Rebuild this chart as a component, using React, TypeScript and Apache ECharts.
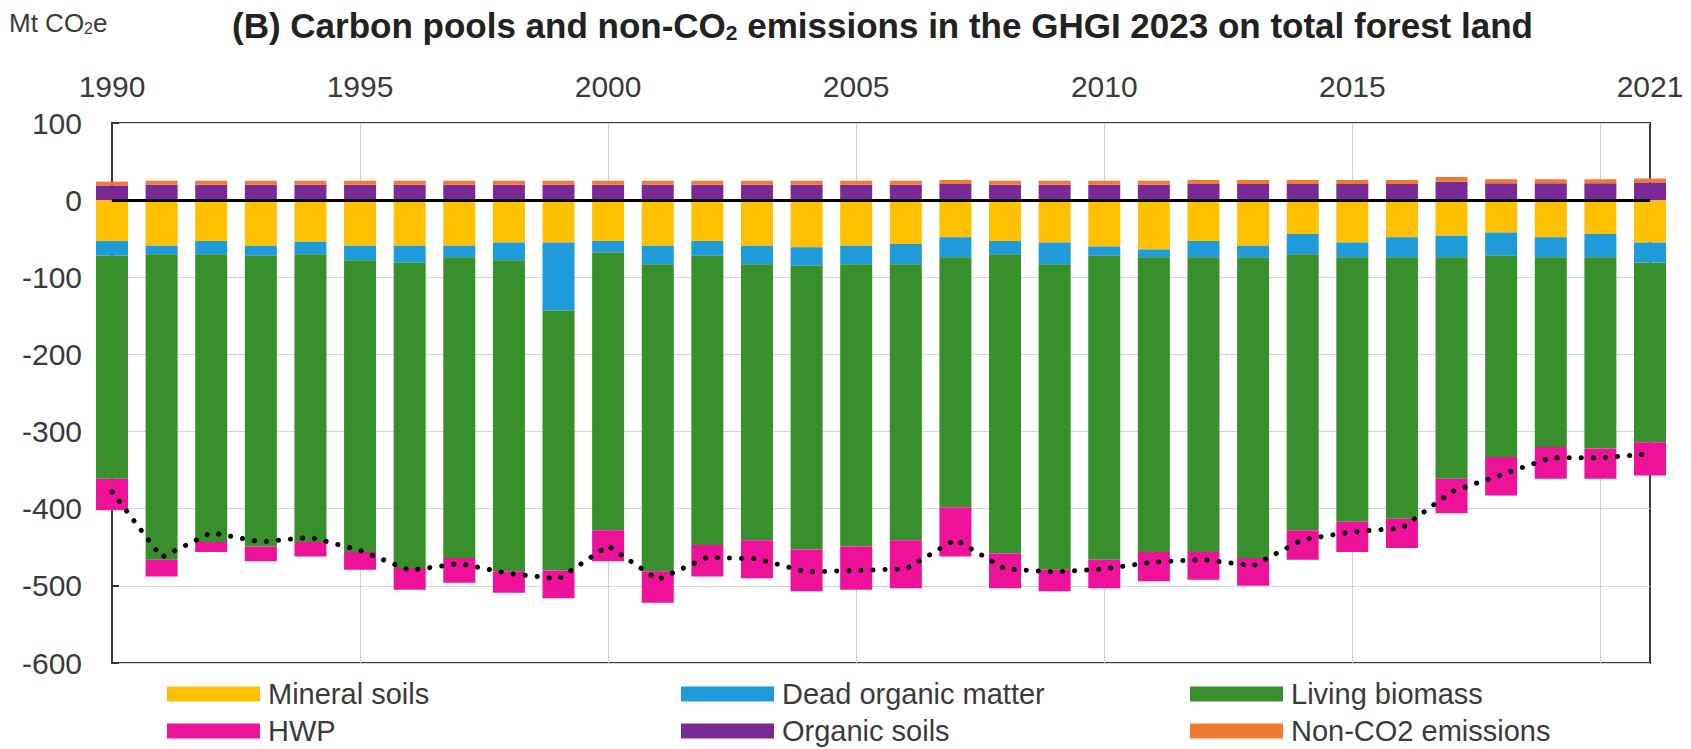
import React, { useEffect, useRef } from "react";
import * as echarts from "echarts";

const years = [
  "1990", "1991", "1992", "1993", "1994", "1995", "1996", "1997", "1998", "1999",
  "2000", "2001", "2002", "2003", "2004", "2005", "2006", "2007", "2008", "2009",
  "2010", "2011", "2012", "2013", "2014", "2015", "2016", "2017", "2018", "2019",
  "2020", "2021",
];

const mineralSoils = [
  -53, -59, -53, -59, -54, -59, -59, -59, -55, -55,
  -53, -59, -53, -59, -61, -59, -57, -48, -53, -55,
  -60, -64, -53, -59, -44, -55, -48, -46, -42, -48,
  -44, -55,
];

const deadOrganicMatter = [
  -19, -11, -17, -13, -16, -19, -22, -15, -23, -88,
  -15, -24, -19, -24, -24, -24, -26, -26, -17, -28,
  -12, -10, -21, -15, -26, -19, -26, -28, -30, -26,
  -30, -26,
];

const livingBiomass = [
  -289, -396, -373, -377, -373, -378, -396, -390, -403, -337,
  -360, -398, -375, -358, -368, -366, -358, -324, -388, -396,
  -394, -382, -382, -390, -358, -343, -339, -287, -261, -246,
  -248, -233,
];

const hwp = [
  -41, -22, -13, -19, -19, -23, -28, -32, -28, -36,
  -40, -41, -41, -49, -54, -56, -62, -64, -45, -28,
  -37, -38, -36, -36, -38, -39, -38, -45, -50, -41,
  -39, -43,
];

const organicSoils = [
  19, 20, 20, 20, 20, 20, 20, 20, 20, 20,
  20, 20, 20, 20, 20, 20, 20, 21, 20, 20,
  20, 20, 21, 21, 21, 21, 21, 24, 22, 22,
  22, 23,
];

const nonCO2Emissions = [
  5, 5, 5, 5, 5, 5, 5, 5, 5, 5,
  5, 5, 5, 5, 5, 5, 5, 5, 5, 5,
  5, 5, 5, 5, 5, 5, 5, 6, 5, 5,
  5, 5,
];

const netTotal = [
  -378, -463, -431, -443, -437, -454, -480, -471, -484, -491,
  -448, -492, -463, -465, -482, -480, -478, -440, -478, -482,
  -478, -469, -466, -474, -440, -430, -425, -378, -356, -334,
  -334, -329,
];

const FONT = '"Liberation Sans", Arial, Helvetica, sans-serif';
const TEXT = "#3a3a3a";

const COLORS = {
  mineral: "#FFC000",
  dom: "#1E9BD8",
  living: "#37902B",
  hwp: "#EE1199",
  organic: "#7A2A96",
  nonco2: "#F07A30",
};

function legendItem(name: string, left: number, top: number) {
  return {
    data: [name],
    left,
    top,
    padding: 0,
    itemWidth: 93,
    itemHeight: 15,
    itemGap: 0,
    icon: "rect",
    selectedMode: false,
    textStyle: {
      fontSize: 29,
      lineHeight: 30,
      color: TEXT,
      fontFamily: FONT,
      padding: [0, 0, 0, 3],
    },
  };
}

function barSeries(name: string, data: number[], color: string) {
  return {
    name,
    type: "bar",
    stack: "total",
    barWidth: 32,
    data,
    itemStyle: { color },
    emphasis: { disabled: true },
  };
}

export default function App() {
  const ref = useRef<HTMLDivElement>(null);

  useEffect(() => {
    document.body.style.margin = "0";
    document.body.style.overflow = "hidden";
    const chart = echarts.init(ref.current as HTMLDivElement, null, {
      renderer: "svg",
    });

    const option = {
      animation: false,
      backgroundColor: "#ffffff",
      textStyle: { fontFamily: FONT },
      title: [
        {
          text: "(B) Carbon pools and non-CO{s|2} emissions in the GHGI 2023 on total forest land",
          left: 232,
          top: 8,
          padding: 0,
          textStyle: {
            fontSize: 35,
            fontWeight: "bold",
            color: "#222",
            fontFamily: FONT,
            rich: {
              s: {
                fontSize: 21,
                fontWeight: "bold",
                color: "#222",
                fontFamily: FONT,
                verticalAlign: "bottom",
                padding: [14, 0, 0, 0],
              },
            },
          },
        },
        {
          text: "Mt CO{s|2}e",
          left: 9,
          top: 10,
          padding: 0,
          textStyle: {
            fontSize: 26,
            fontWeight: "normal",
            color: TEXT,
            fontFamily: FONT,
            rich: {
              s: {
                fontSize: 16,
                color: TEXT,
                fontFamily: FONT,
                verticalAlign: "bottom",
                padding: [10, 0, 0, 0],
              },
            },
          },
        },
      ],
      legend: [
        legendItem("Mineral soils", 167, 679),
        legendItem("Dead organic matter", 681, 679),
        legendItem("Living biomass", 1190, 679),
        legendItem("HWP", 167, 716),
        legendItem("Organic soils", 681, 716),
        legendItem("Non-CO2 emissions", 1190, 716),
      ],
      grid: {
        left: 112,
        right: 41,
        top: 123,
        bottom: 86,
        show: true,
        borderColor: "#3a3a3a",
        borderWidth: 2,
        backgroundColor: "transparent",
      },
      xAxis: {
        type: "category",
        data: years,
        position: "top",
        boundaryGap: false,
        axisLine: { show: false },
        axisTick: { show: false },
        axisLabel: {
          interval: (i: number) => (i % 5 === 0 && i !== 30) || i === 31,
          margin: 22,
          fontSize: 30,
          color: TEXT,
          fontFamily: FONT,
        },
        splitLine: {
          show: true,
          interval: (i: number) => i > 0 && i % 5 === 0,
          lineStyle: { color: "#cfcfcf", width: 1 },
        },
      },
      yAxis: {
        type: "value",
        min: -600,
        max: 100,
        interval: 100,
        axisLine: { show: false },
        axisTick: {
          show: true,
          inside: true,
          length: 7,
          lineStyle: { color: "#333", width: 2 },
        },
        axisLabel: {
          fontSize: 30,
          margin: 30,
          color: TEXT,
          fontFamily: FONT,
        },
        splitLine: { show: true, lineStyle: { color: "#d6d6d6", width: 1 } },
      },
      series: [
        barSeries("Mineral soils", mineralSoils, COLORS.mineral),
        barSeries("Dead organic matter", deadOrganicMatter, COLORS.dom),
        barSeries("Living biomass", livingBiomass, COLORS.living),
        barSeries("HWP", hwp, COLORS.hwp),
        barSeries("Organic soils", organicSoils, COLORS.organic),
        barSeries("Non-CO2 emissions", nonCO2Emissions, COLORS.nonco2),
        {
          name: "Net total",
          type: "line",
          data: netTotal,
          symbol: "none",
          z: 5,
          lineStyle: {
            color: "#000",
            width: 5,
            type: [0.1, 12],
            cap: "round",
          },
          emphasis: { disabled: true },
          markLine: {
            silent: true,
            symbol: ["none", "none"],
            label: { show: false },
            lineStyle: { color: "#000", width: 3, type: "solid" },
            data: [{ yAxis: 0 }],
          },
        },
      ],
    };

    chart.setOption(option as any);
    return () => chart.dispose();
  }, []);

  return <div ref={ref} style={{ width: 1691, height: 749 }} />;
}
